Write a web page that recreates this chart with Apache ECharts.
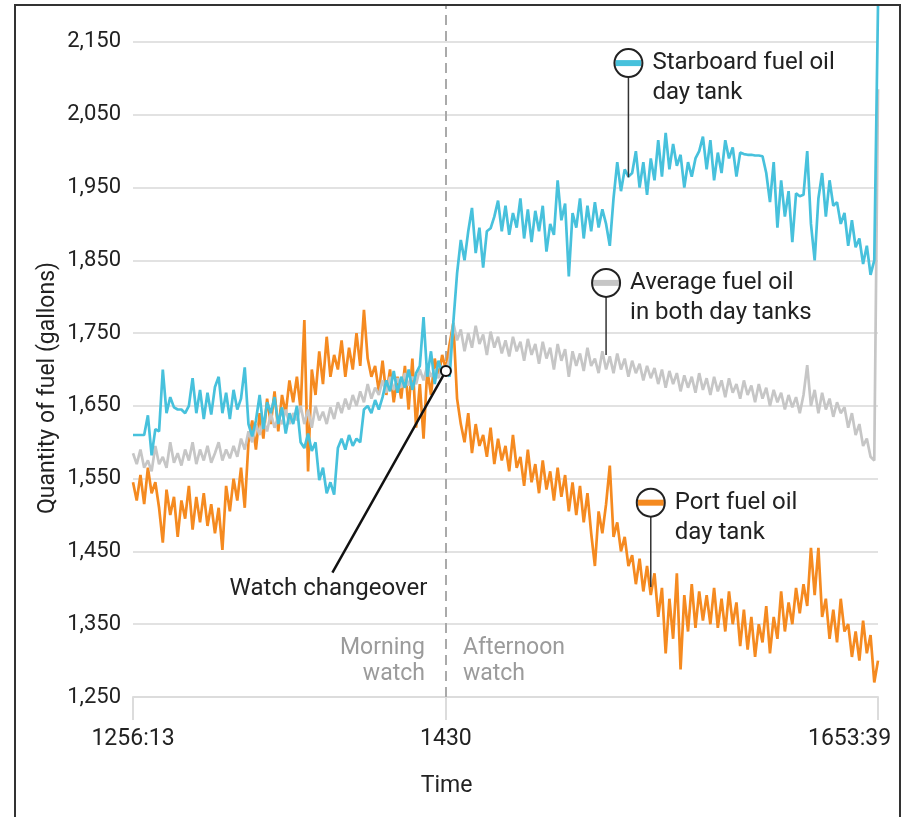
<!DOCTYPE html>
<html><head><meta charset="utf-8">
<script src="https://cdn.jsdelivr.net/npm/echarts@6/dist/echarts.min.js"></script>
<style>html,body{margin:0;padding:0;background:#fff}#c{width:905px;height:817px}</style>
</head><body><div id="c"></div>
<script>
// Starboard fuel oil day tank (gallons)
const starboard = [
1610,1610,1610,1610,1637,1582,1618,1615,1700,1640,
1662,1648,1645,1645,1640,1650,1688,1640,1672,1632,
1668,1638,1676,1690,1640,1668,1632,1672,1645,1660,
1703,1625,1608,1630,1665,1618,1655,1640,1662,1625,
1648,1612,1640,1625,1650,1600,1592,1612,1588,1600,
1548,1565,1530,1545,1528,1592,1605,1590,1610,1595,
1605,1600,1645,1650,1640,1658,1645,1662,1685,1670,
1698,1668,1690,1675,1700,1672,1695,1705,1772,1690,
1725,1680,1712,1695,1705,1690,1765,1832,1878,1850,
1890,1922,1860,1895,1840,1890,1894,1910,1932,1890,
1925,1885,1915,1895,1935,1880,1920,1875,1918,1890,
1925,1862,1900,1885,1960,1905,1928,1828,1915,1895,
1935,1880,1925,1890,1930,1895,1920,1900,1870,1935,
1985,1945,1975,1965,1970,2000,1950,1985,1940,1990,
1960,2015,1965,2025,1975,2010,1980,1995,1950,1985,
1965,1990,2000,2020,1975,2015,1960,1998,1970,2015,
1990,2005,1965,1998,1996,1995,1995,1994,1994,1993,
1970,1930,1985,1895,1960,1910,1945,1875,1942,1938,
1940,2000,1900,1850,1935,1970,1910,1960,1925,1930,
1900,1915,1870,1905,1868,1880,1845,1870,1830,1850,
2200];
// Port fuel oil day tank (gallons)
const port = [
1545,1520,1555,1515,1565,1530,1545,1510,1462,1535,
1500,1525,1470,1520,1495,1540,1480,1525,1490,1530,
1485,1515,1475,1510,1452,1540,1505,1550,1520,1565,
1510,1600,1630,1590,1640,1605,1660,1625,1670,1615,
1665,1640,1685,1655,1690,1645,1768,1560,1700,1665,
1725,1680,1745,1690,1720,1700,1740,1690,1730,1700,
1750,1705,1782,1715,1690,1705,1670,1712,1665,1700,
1655,1690,1660,1705,1645,1715,1620,1680,1605,1700,
1665,1715,1690,1720,1700,1735,1764,1660,1625,1600,
1640,1585,1625,1595,1610,1580,1620,1570,1605,1575,
1595,1560,1610,1565,1580,1540,1590,1545,1570,1530,
1575,1535,1560,1520,1565,1525,1555,1505,1545,1500,
1540,1490,1530,1475,1430,1505,1475,1515,1568,1470,
1490,1450,1470,1430,1445,1405,1440,1395,1430,1390,
1420,1360,1400,1310,1385,1330,1420,1288,1390,1340,
1405,1345,1395,1355,1390,1350,1400,1345,1385,1340,
1395,1350,1380,1320,1370,1315,1360,1305,1350,1325,
1375,1310,1360,1330,1395,1340,1380,1350,1400,1365,
1405,1375,1455,1390,1455,1360,1385,1330,1370,1325,
1385,1340,1350,1305,1340,1300,1355,1310,1335,1270,
1300];
// Average fuel oil in both day tanks (gallons)
const average = [
1585,1570,1590,1565,1575,1560,1595,1570,1580,1565,
1600,1572,1585,1568,1590,1575,1600,1570,1590,1575,
1595,1572,1585,1600,1575,1590,1578,1595,1580,1605,
1590,1615,1600,1625,1610,1630,1615,1640,1620,1635,
1625,1645,1625,1640,1630,1650,1625,1645,1620,1650,
1630,1642,1625,1648,1632,1655,1640,1660,1645,1665,
1650,1670,1655,1680,1660,1675,1665,1685,1668,1690,
1672,1688,1675,1695,1678,1690,1680,1700,1685,1705,
1690,1700,1688,1705,1698,1715,1764,1740,1755,1725,
1750,1730,1760,1735,1748,1720,1752,1730,1745,1722,
1740,1718,1745,1725,1738,1712,1742,1720,1735,1708,
1738,1715,1730,1700,1735,1712,1728,1690,1725,1705,
1722,1698,1730,1705,1715,1695,1725,1700,1718,1695,
1722,1700,1715,1690,1712,1695,1708,1685,1705,1688,
1702,1680,1700,1675,1698,1680,1695,1670,1692,1675,
1690,1668,1695,1672,1688,1665,1690,1670,1685,1662,
1688,1668,1680,1660,1685,1665,1678,1655,1680,1660,
1675,1650,1672,1655,1668,1645,1665,1648,1662,1640,
1665,1706,1650,1672,1640,1668,1645,1660,1635,1655,
1640,1648,1620,1640,1610,1625,1595,1605,1580,1575,
2085];
const categories = starboard.map((_, i) => String(i));
const tickIndices = [0, 84, 200];
const tickLabels = ['1256:13', '1430', '1653:39'];
const changeoverIndex = 84;

const blueC = '#47c1dc', orangeC = '#f58a20', grayC = '#c6c6c6';
const FONT = 'Roboto, "Noto Sans", sans-serif';

const chart = echarts.init(document.getElementById('c'), null, {renderer: 'canvas'});
chart.setOption({
  animation: false,
  textStyle: {fontFamily: FONT},
  grid: {left: 133, right: 27, top: 5.6, bottom: 120, containLabel: false},
  xAxis: {
    type: 'category', data: categories, boundaryGap: false,
    axisLine: {show: true, lineStyle: {color: '#dcdcdc', width: 2}},
    axisTick: {show: true, length: 23, interval: (i) => tickIndices.includes(i), lineStyle: {color: '#dcdcdc', width: 2}},
    axisLabel: {
      interval: (i) => tickIndices.includes(i), margin: 31, fontSize: 23, color: '#222', fontFamily: FONT,
      formatter: (v) => { const k = tickIndices.indexOf(Number(v)); if (k < 0) return ''; return k === tickIndices.length - 1 ? '{end|' + tickLabels[k] + '}' : tickLabels[k]; },
      rich: {end: {width: 140, align: 'left', fontSize: 23, color: '#222', fontFamily: FONT}}
    },
    splitLine: {show: false},
    name: 'Time', nameLocation: 'middle', nameGap: 78,
    nameTextStyle: {fontSize: 23, color: '#222', fontFamily: FONT, padding: [0, 118, 0, 0]}
  },
  yAxis: {
    type: 'value', min: 1250, max: 2200, interval: 100,
    axisLine: {show: false}, axisTick: {show: false},
    axisLabel: {showMaxLabel: false, margin: 12, fontSize: 22, color: '#222', fontFamily: FONT,
      formatter: (v) => v >= 2200 ? '' : v.toLocaleString('en-US')},
    splitLine: {show: true, showMaxLine: false, lineStyle: {color: '#e2e2e2', width: 2}}
  },
  series: [
    {name: 'Port fuel oil day tank', type: 'line', data: port, showSymbol: false, lineStyle: {color: orangeC, width: 2.7}, itemStyle: {color: orangeC}, z: 2},
    {name: 'Average fuel oil in both day tanks', type: 'line', data: average, showSymbol: false, lineStyle: {color: grayC, width: 2.7}, itemStyle: {color: grayC}, z: 3},
    {name: 'Starboard fuel oil day tank', type: 'line', data: starboard, showSymbol: false, lineStyle: {color: blueC, width: 2.7}, itemStyle: {color: blueC}, z: 4,
      markLine: {silent: true, symbol: ['none', 'none'], label: {show: false},
        lineStyle: {type: [10, 6], color: '#aaaaaa', width: 2}, data: [{xAxis: String(changeoverIndex)}], z: 1}}
  ]
});

const P = (i, v) => chart.convertToPixel({xAxisIndex: 0, yAxisIndex: 0}, [i, v]);
const annots = [
  {lines: ['Starboard fuel oil', 'day tank'], color: blueC, idx: 133, top: 2121, end: 1964},
  {lines: ['Average fuel oil', 'in both day tanks'], color: grayC, idx: 127, top: 1819, end: 1720},
  {lines: ['Port fuel oil', 'day tank'], color: orangeC, idx: 139, top: 1517, end: 1401}
];
const g = [];
const R = 14;
const txt = (x, y, text, opts) => ({type: 'text', x: x, y: y, z: 100, style: Object.assign({text: text, fontSize: 24, fontFamily: FONT, fill: '#222', align: 'left', textAlign: 'left', verticalAlign: 'middle', textVerticalAlign: 'middle'}, opts || {})});
annots.forEach(a => {
  const c = P(a.idx, a.top), e = P(a.idx, a.end);
  g.push({type: 'line', z: 100, shape: {x1: c[0], y1: c[1] + R, x2: c[0], y2: e[1]}, style: {stroke: '#333', lineWidth: 1.5}});
  g.push({type: 'circle', z: 100, shape: {cx: c[0], cy: c[1], r: R}, style: {fill: '#fff', stroke: null}});
  g.push({type: 'rect', z: 101, shape: {x: c[0] - R + 1, y: c[1] - 3, width: 2 * R - 2, height: 6}, style: {fill: a.color}});
  g.push({type: 'circle', z: 102, shape: {cx: c[0], cy: c[1], r: R}, style: {fill: null, stroke: '#222', lineWidth: 2}});
  g.push(txt(c[0] + 24, c[1], a.lines[0]));
  g.push(txt(c[0] + 24, c[1] + 30, a.lines[1]));
});
// Watch changeover callout
const wc = P(changeoverIndex, 1698), we = P(53, 1421);
g.push({type: 'line', z: 100, shape: {x1: wc[0], y1: wc[1], x2: we[0] + 2, y2: we[1]}, style: {stroke: '#111', lineWidth: 2.5}});
g.push({type: 'circle', z: 101, shape: {cx: wc[0], cy: wc[1], r: 5}, style: {fill: '#fff', stroke: '#111', lineWidth: 2}});
g.push(txt(we[0] - 2, we[1] + 16, 'Watch changeover', {align: 'center', textAlign: 'center'}));
// Watch labels
const base = P(changeoverIndex, 1250);
g.push(txt(base[0] - 21, base[1] - 49, 'Morning', {align: 'right', textAlign: 'right', fill: '#9b9b9b', fontSize: 23}));
g.push(txt(base[0] - 21, base[1] - 23, 'watch', {align: 'right', textAlign: 'right', fill: '#9b9b9b', fontSize: 23}));
g.push(txt(base[0] + 17, base[1] - 49, 'Afternoon', {fill: '#9b9b9b', fontSize: 23}));
g.push(txt(base[0] + 17, base[1] - 23, 'watch', {fill: '#9b9b9b', fontSize: 23}));
// Y axis title
g.push({type: 'text', x: 48, y: 388, rotation: Math.PI / 2, z: 100, style: {text: 'Quantity of fuel (gallons)', fontSize: 23, fontFamily: FONT, fill: '#222', align: 'center', textAlign: 'center', verticalAlign: 'middle', textVerticalAlign: 'middle'}});
// Frame
g.push({type: 'rect', z: 200, shape: {x: 15, y: 5, width: 885, height: 840}, style: {fill: null, stroke: '#333', lineWidth: 2}});
chart.setOption({graphic: {elements: g}});
</script>
</body></html>
